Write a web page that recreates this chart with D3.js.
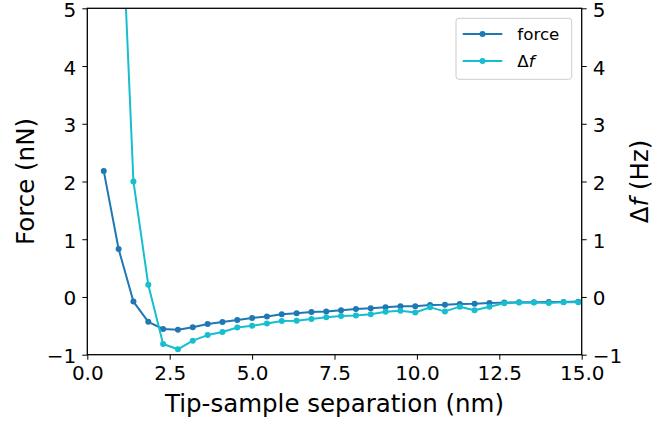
<!DOCTYPE html>
<html>
<head>
<meta charset="utf-8">
<script src="https://cdn.jsdelivr.net/npm/d3@7"></script>
<style>
  html, body { margin: 0; padding: 0; background: #fff; }
  svg { display: block; font-family: "DejaVu Sans", sans-serif; }
</style>
</head>
<body>
<svg id="chart" width="652" height="425"></svg>
<script>
// ---- data ----
const separation = [0.5, 0.95, 1.4, 1.85, 2.3, 2.75, 3.2, 3.65, 4.1, 4.55, 5.0, 5.45, 5.9, 6.35, 6.8, 7.25, 7.7, 8.15, 8.6, 9.05, 9.5, 9.95, 10.4, 10.85, 11.3, 11.75, 12.2, 12.65, 13.1, 13.55, 14.0, 14.45, 14.9];
const force = [2.18, 0.83, -0.08, -0.43, -0.555, -0.567, -0.525, -0.468, -0.433, -0.40, -0.364, -0.34, -0.30, -0.28, -0.26, -0.25, -0.23, -0.21, -0.195, -0.18, -0.16, -0.16, -0.139, -0.133, -0.121, -0.116, -0.104, -0.098, -0.092, -0.092, -0.087, -0.087, -0.081];
const deltaF = [18, 7.95, 2.0, 0.21, -0.815, -0.906, -0.757, -0.66, -0.607, -0.53, -0.50, -0.46, -0.416, -0.41, -0.38, -0.35, -0.33, -0.32, -0.30, -0.255, -0.237, -0.27, -0.18, -0.25, -0.168, -0.23, -0.168, -0.11, -0.098, -0.098, -0.104, -0.092, -0.092];
const xTicks = [0, 2.5, 5, 7.5, 10, 12.5, 15];
const yTicks = [-1, 0, 1, 2, 3, 4, 5];
const xDomain = [0, 15];
const yDomain = [-1, 5];

// ---- layout ----
const W = 652, H = 425;
const m = { left: 87.3, right: 652 - 581.7, top: 8.3, bottom: 425 - 354.7 };
const iw = W - m.left - m.right, ih = H - m.top - m.bottom;
const C_FORCE = "#1f77b4", C_DF = "#17becf";

const svg = d3.select("#chart");
const x = d3.scaleLinear().domain(xDomain).range([m.left, m.left + iw]);
const yL = d3.scaleLinear().domain(yDomain).range([m.top + ih, m.top]);
const yR = d3.scaleLinear().domain(yDomain).range([m.top + ih, m.top]);

svg.append("defs").append("clipPath").attr("id", "clip")
  .append("rect").attr("x", m.left).attr("y", m.top).attr("width", iw).attr("height", ih);

const plot = svg.append("g").attr("clip-path", "url(#clip)");

function series(vals, yScale, color) {
  const pts = separation.map((s, i) => [s, vals[i]]);
  const line = d3.line().x(d => x(d[0])).y(d => yScale(d[1]));
  plot.append("path").datum(pts).attr("d", line)
    .attr("fill", "none").attr("stroke", color).attr("stroke-width", 2)
    .attr("stroke-linejoin", "round").attr("stroke-linecap", "square");
  plot.selectAll(null).data(pts).enter().append("circle")
    .attr("cx", d => x(d[0])).attr("cy", d => yScale(d[1])).attr("r", 3)
    .attr("fill", color);
}
series(force, yL, C_FORCE);
series(deltaF, yR, C_DF);

// ---- axes ----
const tickFont = 20;
function styleAxis(g, vertical) {
  g.selectAll(".domain").remove();
  g.selectAll(".tick line").attr("stroke", "#000").attr("stroke-width", 1);
  const t = g.selectAll(".tick text").attr("font-size", tickFont).attr("fill", "#000")
    .attr("font-family", "DejaVu Sans, sans-serif");
  if (vertical) t.attr("dy", "0.4em");
}
const gx = svg.append("g").attr("transform", `translate(0,${m.top + ih})`)
  .call(d3.axisBottom(x).tickValues(xTicks).tickFormat(d3.format(".1f")).tickSize(5).tickPadding(6));
styleAxis(gx, false);
const gyl = svg.append("g").attr("transform", `translate(${m.left},0)`)
  .call(d3.axisLeft(yL).tickValues(yTicks).tickFormat(d3.format("d")).tickSize(5).tickPadding(6));
styleAxis(gyl, true);
const gyr = svg.append("g").attr("transform", `translate(${m.left + iw},0)`)
  .call(d3.axisRight(yR).tickValues(yTicks).tickFormat(d3.format("d")).tickSize(5).tickPadding(6));
styleAxis(gyr, true);

// frame
svg.append("rect").attr("x", m.left).attr("y", m.top).attr("width", iw).attr("height", ih)
  .attr("fill", "none").attr("stroke", "#000").attr("stroke-width", 1.3);

// axis labels
const labelFont = 24.5;
svg.append("text").attr("x", m.left + iw / 2).attr("y", 411.7)
  .attr("text-anchor", "middle").attr("font-size", labelFont).text("Tip-sample separation (nm)");
svg.append("text").attr("transform", `translate(33.5,${m.top + ih / 2}) rotate(-90)`)
  .attr("text-anchor", "middle").attr("font-size", labelFont).text("Force (nN)");
const rl = svg.append("text").attr("transform", `translate(647.5,${m.top + ih / 2}) rotate(-90)`)
  .attr("text-anchor", "middle").attr("font-size", labelFont);
rl.append("tspan").text("Δ");
rl.append("tspan").attr("font-style", "italic").text("f");
rl.append("tspan").text(" (Hz)");

// ---- legend ----
const lg = svg.append("g");
lg.append("rect").attr("x", 456).attr("y", 18.3).attr("width", 115.7).attr("height", 61)
  .attr("rx", 3).attr("fill", "#fff").attr("fill-opacity", 0.8)
  .attr("stroke", "#cccccc").attr("stroke-width", 1);
const legendItems = [
  { label: "force", color: C_FORCE, y: 34 },
  { label: "Δf", color: C_DF, y: 61 }
];
legendItems.forEach(it => {
  lg.append("line").attr("x1", 462.7).attr("x2", 502.3).attr("y1", it.y).attr("y2", it.y)
    .attr("stroke", it.color).attr("stroke-width", 2);
  lg.append("circle").attr("cx", 482.5).attr("cy", it.y).attr("r", 3).attr("fill", it.color);
  const t = lg.append("text").attr("x", 517.3).attr("y", it.y + 6).attr("font-size", 16.7);
  if (it.label === "Δf") {
    t.append("tspan").text("Δ");
    t.append("tspan").attr("font-style", "italic").text("f");
  } else {
    t.text(it.label);
  }
});
</script>
</body>
</html>
